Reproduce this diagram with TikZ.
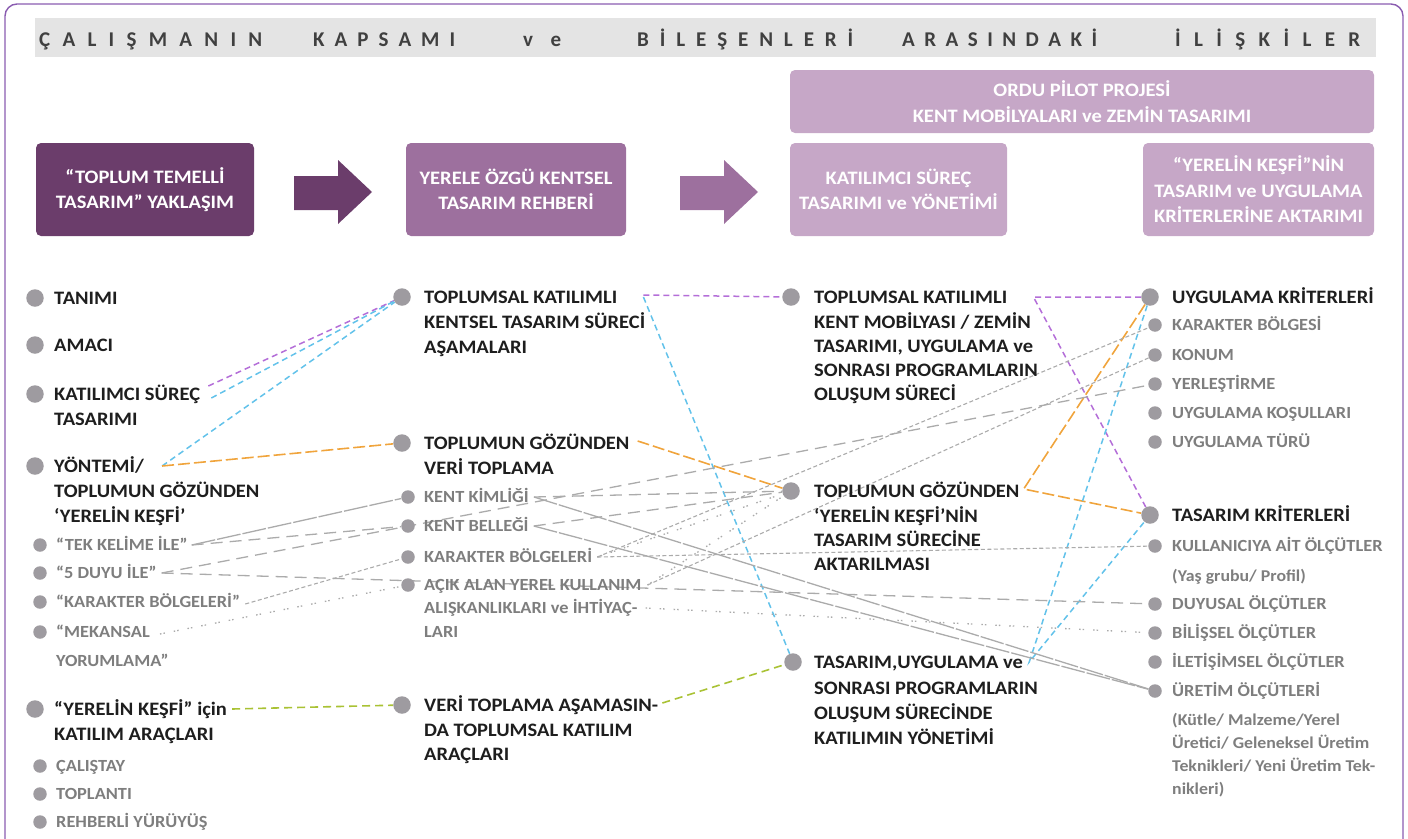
\documentclass[tikz,border=0pt]{standalone}
\usepackage{fontspec}
\setmainfont{Carlito}
\newfontfamily\wideF{Carlito}[FakeStretch=1.08]
\usetikzlibrary{backgrounds}
\definecolor{dpur}{HTML}{6B3D6B}
\definecolor{mpur}{HTML}{9D709E}
\definecolor{lpur}{HTML}{C6A7C7}
\definecolor{framec}{HTML}{8A5CB0}
\definecolor{hdr}{HTML}{E4E4E4}
\definecolor{bulg}{HTML}{9E9BA0}
\definecolor{tblack}{HTML}{1E1E1E}
\definecolor{tgray}{HTML}{7E7E7E}
\definecolor{cpur}{HTML}{B46ED8}
\definecolor{ccya}{HTML}{62C2EA}
\definecolor{cora}{HTML}{F0A43C}
\definecolor{cgrn}{HTML}{A9C234}
\definecolor{lgray}{HTML}{ABABAB}
\newcommand\myMain{\wideF\fontsize{19}{25}\selectfont\bfseries}
\newcommand\mySub{\wideF\fontsize{17}{22}\selectfont\bfseries}
\newcommand\myPar{\wideF\fontsize{16.5}{22}\selectfont\bfseries}
\newcommand\myBox{\wideF\fontsize{19}{25.5}\selectfont\bfseries}
\newcommand\myHdr{\fontsize{21}{24}\selectfont\bfseries}
\begin{document}
\begin{tikzpicture}[x=1pt,y=-1pt,
  bul/.style={circle, fill=bulg, inner sep=0pt, minimum size=17.5pt},
  sbul/.style={circle, fill=bulg, inner sep=0pt, minimum size=13.5pt},
  mt/.style={anchor=base west, inner sep=0pt, text=tblack, font=\myMain},
  gt/.style={anchor=base west, inner sep=0pt, text=tgray, font=\mySub},
  pt/.style={anchor=base west, inner sep=0pt, text=tgray, font=\myPar},
  hw/.style={anchor=base west, inner sep=0pt, text=tblack!85, font=\myHdr},
  pbox/.style={rounded corners=5pt, inner sep=0pt, text=white, font=\myBox, align=center},
  gsol/.style={draw=lgray, line width=1.3pt, dash pattern=on 24pt off 2pt},
  gdash/.style={draw=lgray, line width=1.3pt, dash pattern=on 12pt off 7pt},
  gfine/.style={draw=lgray, line width=1.1pt, dash pattern=on 4pt off 2.5pt},
  gdot/.style={draw=lgray, line width=1.3pt, dash pattern=on 1.5pt off 2pt on 1.5pt off 9pt},
  cp/.style={draw=cpur, line width=1.5pt, dash pattern=on 6pt off 4pt},
  cc/.style={draw=ccya, line width=1.5pt, dash pattern=on 6pt off 4pt},
  co/.style={draw=cora, line width=1.6pt, dash pattern=on 12pt off 4pt},
  cg/.style={draw=cgrn, line width=1.6pt, dash pattern=on 8pt off 5pt}
]
\useasboundingbox (0,0) rectangle (1408,838);
\draw[framec, line width=1.4pt, rounded corners=12pt] (5,4) rectangle (1403,880);

% header
\node[fill=hdr, minimum width=1341pt, minimum height=39pt, inner sep=0pt] (hbar) at (705.5,37.5) {};
\node[hw] (h1) at (39,46) {\makebox[223pt][s]{Ç\hfill A\hfill L\hfill I\hfill Ş\hfill M\hfill A\hfill N\hfill I\hfill N}};
\node[hw] (h2) at (313,46) {\makebox[142pt][s]{K\hfill A\hfill P\hfill S\hfill A\hfill M\hfill I}};
\node[hw] (h3) at (523,46) {\makebox[38pt][s]{v\hfill e}};
\node[hw] (h4) at (637,46) {\makebox[216pt][s]{B\hfill İ\hfill L\hfill E\hfill Ş\hfill E\hfill N\hfill L\hfill E\hfill R\hfill İ}};
\node[hw] (h5) at (902,46) {\makebox[195pt][s]{A\hfill R\hfill A\hfill S\hfill I\hfill N\hfill D\hfill A\hfill K\hfill İ}};
\node[hw] (h6) at (1175,46) {\makebox[185pt][s]{İ\hfill L\hfill İ\hfill Ş\hfill K\hfill İ\hfill L\hfill E\hfill R}};

% boxes
\node[pbox, fill=lpur, minimum width=584pt, minimum height=63pt] (ordu) at (1082,101.5) {ORDU PİLOT PROJESİ\\KENT MOBİLYALARI ve ZEMİN TASARIMI};
\node[pbox, fill=dpur, minimum width=218pt, minimum height=93pt] (b1) at (145,189.5) {“TOPLUM TEMELLİ\\TASARIM” YAKLAŞIM};
\node[pbox, fill=mpur, minimum width=220pt, minimum height=93pt] (b2) at (516,189.5) {YERELE ÖZGÜ KENTSEL\\TASARIM REHBERİ};
\node[pbox, fill=lpur, minimum width=217pt, minimum height=93pt] (b3) at (898.5,189.5) {KATILIMCI SÜREÇ\\TASARIMI ve YÖNETİMİ};
\node[pbox, fill=lpur, minimum width=231pt, minimum height=93pt] (b4) at (1258.5,189.5) {“YERELİN KEŞFİ”NİN\\TASARIM ve UYGULAMA\\KRİTERLERİNE AKTARIMI};
\fill[dpur] (294,176) -- (338,176) -- (338,160) -- (372,192) -- (338,224) -- (338,210) -- (294,210) -- cycle;
\fill[mpur] (680,176) -- (724,176) -- (724,160) -- (758,192) -- (724,224) -- (724,210) -- (680,210) -- cycle;

% left column
\node[bul] (l1) at (35,298) {}; \node[mt] (l1t) at (54,304) {TANIMI};
\node[bul] (l2) at (35,345) {}; \node[mt] (l2t) at (54,351) {AMACI};
\node[bul] (l3) at (35,394) {}; \node[mt] (l3t) at (54,400) {KATILIMCI SÜREÇ}; \node[mt] (l3u) at (54,425) {TASARIMI};
\node[bul] (l4) at (35,466) {}; \node[mt] (l4t) at (54,472) {YÖNTEMİ/}; \node[mt] (l4u) at (54,497) {TOPLUMUN GÖZÜNDEN}; \node[mt] (l4v) at (54,522) {‘YERELİN KEŞFİ’};
\node[sbul] (s1) at (40,545) {}; \node[gt] (s1t) at (56,550) {“TEK KELİME İLE”};
\node[sbul] (s2) at (40,573) {}; \node[gt] (s2t) at (56,578) {“5 DUYU İLE”};
\node[sbul] (s3) at (40,602) {}; \node[gt] (s3t) at (56,607) {“KARAKTER BÖLGELERİ”};
\node[sbul] (s4) at (40,632) {}; \node[gt] (s4t) at (56,637) {“MEKANSAL}; \node[gt] (s4u) at (56,666) {YORUMLAMA”};
\node[bul] (l5) at (35,709) {}; \node[mt] (l5t) at (54,715) {“YERELİN KEŞFİ” için}; \node[mt] (l5u) at (54,740) {KATILIM ARAÇLARI};
\node[sbul] (s5) at (40,766) {}; \node[gt] (s5t) at (56,771) {ÇALIŞTAY};
\node[sbul] (s6) at (40,794) {}; \node[gt] (s6t) at (56,799) {TOPLANTI};
\node[sbul] (s7) at (40,822) {}; \node[gt] (s7t) at (56,827) {REHBERLİ YÜRÜYÜŞ};

% column 2
\node[bul] (m1) at (402,297) {}; \node[mt] (m1t) at (424,303) {TOPLUMSAL KATILIMLI}; \node[mt] (m1u) at (424,328) {KENTSEL TASARIM SÜRECİ}; \node[mt] (m1v) at (424,353) {AŞAMALARI};
\node[bul] (m2) at (402,443) {}; \node[mt] (m2t) at (424,449) {TOPLUMUN GÖZÜNDEN}; \node[mt] (m2u) at (424,474) {VERİ TOPLAMA};
\node[sbul] (k1) at (408,497) {}; \node[gt] (k1t) at (424,502) {KENT KİMLİĞİ};
\node[sbul] (k2) at (408,526) {}; \node[gt] (k2t) at (424,531) {KENT BELLEĞİ};
\node[sbul] (k3) at (408,557) {}; \node[gt] (k3t) at (424,562) {KARAKTER BÖLGELERİ};
\node[sbul] (k4) at (408,585) {}; \node[gt] (k4t) at (424,590) {AÇIK ALAN YEREL KULLANIM}; \node[gt] (k4u) at (424,613) {ALIŞKANLIKLARI ve İHTİYAÇ-}; \node[gt] (k4v) at (424,637) {LARI};
\node[bul] (m3) at (402,705) {}; \node[mt] (m3t) at (424,711) {VERİ TOPLAMA AŞAMASIN-}; \node[mt] (m3u) at (424,736) {DA TOPLUMSAL KATILIM}; \node[mt] (m3v) at (424,760) {ARAÇLARI};

% column 3
\node[bul] (c1) at (791,297) {}; \node[mt] (c1t) at (814,303) {TOPLUMSAL KATILIMLI}; \node[mt] (c1u) at (814,328) {KENT MOBİLYASI / ZEMİN}; \node[mt] (c1v) at (814,352) {TASARIMI, UYGULAMA ve}; \node[mt] (c1w) at (814,376) {SONRASI PROGRAMLARIN}; \node[mt] (c1x) at (814,400) {OLUŞUM SÜRECİ};
\node[bul] (c2) at (791,491) {}; \node[mt] (c2t) at (814,497) {TOPLUMUN GÖZÜNDEN}; \node[mt] (c2u) at (814,522) {‘YERELİN KEŞFİ’NİN}; \node[mt] (c2v) at (814,546) {TASARIM SÜRECİNE}; \node[mt] (c2w) at (814,570) {AKTARILMASI};
\node[bul] (c3) at (793,662) {}; \node[mt] (c3t) at (814,668) {TASARIM,UYGULAMA ve}; \node[mt] (c3u) at (814,694) {SONRASI PROGRAMLARIN}; \node[mt] (c3v) at (814,719) {OLUŞUM SÜRECİNDE}; \node[mt] (c3w) at (814,744) {KATILIMIN YÖNETİMİ};

% column 4
\node[bul] (r1) at (1150,297) {}; \node[mt] (r1t) at (1172,303) {UYGULAMA KRİTERLERİ};
\node[sbul] (r2) at (1155,325) {}; \node[gt] (r2t) at (1172,330) {KARAKTER BÖLGESİ};
\node[sbul] (r3) at (1155,355) {}; \node[gt] (r3t) at (1172,360) {KONUM};
\node[sbul] (r4) at (1155,384) {}; \node[gt] (r4t) at (1172,389) {YERLEŞTİRME};
\node[sbul] (r5) at (1155,413) {}; \node[gt] (r5t) at (1172,418) {UYGULAMA KOŞULLARI};
\node[sbul] (r6) at (1155,442) {}; \node[gt] (r6t) at (1172,447) {UYGULAMA TÜRÜ};
\node[bul] (r7) at (1150,515) {}; \node[mt] (r7t) at (1172,521) {TASARIM KRİTERLERİ};
\node[sbul] (r8) at (1155,546) {}; \node[gt] (r8t) at (1172,551) {KULLANICIYA AİT ÖLÇÜTLER};
\node[pt] (r8u) at (1172,581) {(Yaş grubu/ Profil)};
\node[sbul] (r9) at (1155,604) {}; \node[gt] (r9t) at (1172,609) {DUYUSAL ÖLÇÜTLER};
\node[sbul] (r10) at (1155,633) {}; \node[gt] (r10t) at (1172,638) {BİLİŞSEL ÖLÇÜTLER};
\node[sbul] (r11) at (1155,662) {}; \node[gt] (r11t) at (1172,667) {İLETİŞİMSEL ÖLÇÜTLER};
\node[sbul] (r12) at (1155,691) {}; \node[gt] (r12t) at (1172,696) {ÜRETİM ÖLÇÜTLERİ};
\node[pt] (p1) at (1172,725) {(Kütle/ Malzeme/Yerel};
\node[pt] (p2) at (1172,748) {Üretici/ Geleneksel Üretim};
\node[pt] (p3) at (1172,771) {Teknikleri/ Yeni Üretim Tek-};
\node[pt] (p4) at (1172,794) {nikleri)};

% connectors
\begin{scope}[on background layer]
% colored
\draw[cp] ([shift={(8,-14)}]l3t.base east) -- (m1);
\draw[cc] ([shift={(11,-2)}]l3t.base east) -- (m1);
\draw[cc] ([shift={(18,-6)}]l4t.base east) -- (m1);
\draw[co] ([shift={(18,-6)}]l4t.base east) -- (m2);
\draw[cp] ([shift={(26,-8)}]m1t.base east) -- (c1);
\draw[cc] ([shift={(26,-6)}]m1t.base east) -- (c3);
\draw[co] ([shift={(8,-8)}]m2t.base east) -- (c2);
\draw[cg] ([shift={(5,-6)}]l5t.base east) -- (m3);
\draw[cg] ([shift={(4,-8)}]m3t.base east) -- (c3);
\draw[cp] (r1) -- ([shift={(26,-6)}]c1t.base east) -- (r7);
\draw[co] (r1) -- ([shift={(4,-8)}]c2t.base east) -- (r7);
\draw[cc] (r1) -- ([shift={(6,-6)}]c3t.base east) -- (r7);
% gray, left to column 2
\draw[gsol] ([shift={(4,-5)}]s1t.base east) -- (k1);
\draw[gdash] ([shift={(4,-5)}]s1t.base east) -- (k2);
\draw[gdash] ([shift={(5,-5)}]s2t.base east) -- (r9);
\draw[gdash] ([shift={(5,-5)}]s2t.base east) -- (r4);
\draw[gfine] ([shift={(5,-3)}]s3t.base east) -- (k3);
\draw[gdot] ([shift={(10,-3)}]s4t.base east) -- (k4);
% gray, column 2 to the right
\draw[gdash] ([shift={(5,-5)}]k1t.base east) -- (c2);
\draw[gsol] ([shift={(5,-5)}]k1t.base east) -- (r12);
\draw[gsol] ([shift={(5,-5)}]k2t.base east) -- (r12);
\draw[gdash] ([shift={(5,-5)}]k2t.base east) -- (c2);
\draw[gfine] ([shift={(5,-5)}]k3t.base east) -- (r2);
\draw[gfine] ([shift={(5,-5)}]k3t.base east) -- (r8);
\draw[gdot] ([shift={(5,-5)}]k3t.base east) -- (c2);
\draw[gfine] ([shift={(6,-5)}]k4t.base east) -- (r3);
\draw[gdot] ([shift={(6,-5)}]k4t.base east) -- (c2);
\draw[gdot] ([shift={(8,-5)}]k4u.base east) -- (r10);
\end{scope}
\end{tikzpicture}
\end{document}
